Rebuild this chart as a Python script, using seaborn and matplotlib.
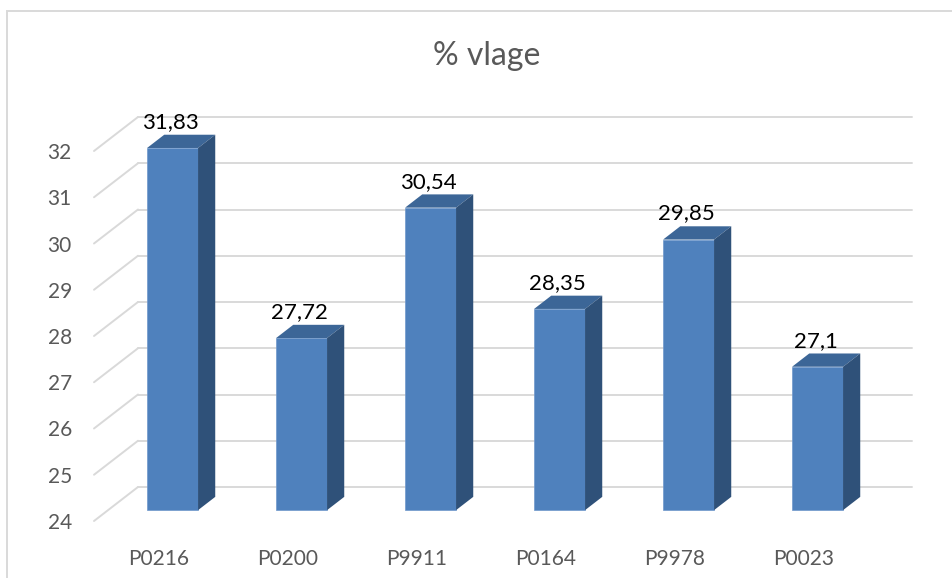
import numpy as np
import matplotlib
matplotlib.use("Agg")
from matplotlib import pyplot as plt
from matplotlib.patches import Polygon, Rectangle
import seaborn as sns

# Podaci
categories = ["P0216", "P0200", "P9911", "P0164", "P9978", "P0023"]
values = [31.83, 27.72, 30.54, 28.35, 29.85, 27.1]
y_ticks = [24, 25, 26, 27, 28, 29, 30, 31, 32]
title = "% vlage"

# Boje
FRONT = "#4F81BD"
TOP = "#3C6697"
SIDE = "#2F5179"
GRID = "#D9D9D9"
TEXT_GRAY = "#595959"

# "3D" pomak dubine (u jedinicama podataka)
DX = 44 / 129      # kategorije
DY = 34 / 46.25    # vrijednosti
F0 = 0.32          # prednja strana stupca
FD = 0.39          # dubina stupca
BAR_W = 51 / 129

sns.set_theme(style="white")
plt.rcParams["font.family"] = ["Lato", "DejaVu Sans"]

fig = plt.figure(figsize=(9.53, 5.78), dpi=100)
ax = fig.add_axes([94 / 953, 57 / 578, 774 / 953, 370 / 578])
ax.set_facecolor("none")

y0 = y_ticks[0]

# zidovi - linije mreže
for v in y_ticks:
    ax.plot([-0.5, -0.5 + DX], [v, v + DY], color=GRID, lw=1.4, zorder=1, clip_on=False)
    ax.plot([-0.5 + DX, len(categories) - 0.5 + DX], [v + DY, v + DY],
            color=GRID, lw=1.4, zorder=1, clip_on=False)

# prednje strane stupaca
sns.barplot(x=categories, y=values, color=FRONT, saturation=1, width=BAR_W,
            errorbar=None, ax=ax, zorder=3, edgecolor="#6F97CB", linewidth=0.5)

for p, v in zip(ax.patches, values):
    p.set_x(p.get_x() + F0 * DX)
    p.set_y(y0 + F0 * DY)
    p.set_height(v - y0)
    p.set_clip_on(False)
    xl = p.get_x()
    xr = xl + p.get_width()
    bot = p.get_y()
    top = bot + p.get_height()
    ddx, ddy = FD * DX, FD * DY
    ax.add_patch(Polygon([(xl, top), (xr, top), (xr + ddx, top + ddy), (xl + ddx, top + ddy)],
                         closed=True, facecolor=TOP, edgecolor="none", zorder=3, clip_on=False))
    ax.add_patch(Polygon([(xr, bot), (xr, top), (xr + ddx, top + ddy), (xr + ddx, bot + ddy)],
                         closed=True, facecolor=SIDE, edgecolor="none", zorder=3, clip_on=False))
    label = f"{v:g}".replace(".", ",")
    ax.annotate(label, (xl + p.get_width() / 2, top), xytext=(-2, 16),
                textcoords="offset pixels", ha="center", va="bottom",
                fontsize=16, color="black", zorder=5, annotation_clip=False)

ax.set_xlim(-0.5, len(categories) - 0.5)
ax.set_ylim(y0, y_ticks[-1])
ax.set_yticks(y_ticks)
ax.set_yticklabels([str(t) for t in y_ticks])
ax.tick_params(axis="y", length=0, pad=16, labelsize=15, labelcolor=TEXT_GRAY)
ax.tick_params(axis="x", length=0, pad=20, labelsize=15, labelcolor=TEXT_GRAY)
ax.set_xlabel("")
ax.set_ylabel("")
sns.despine(ax=ax, left=True, bottom=True)

fig.text(487 / 953, 1 - 56 / 578, title, ha="center", va="center",
         fontsize=23, color=TEXT_GRAY)

# okvir grafikona
fig.add_artist(Rectangle((7 / 953, -0.05), 1.1, 1 - 11 / 578 + 0.05,
                         transform=fig.transFigure, facecolor="none",
                         edgecolor=GRID, lw=1.4))

fig.savefig("out.png", dpi=100)
